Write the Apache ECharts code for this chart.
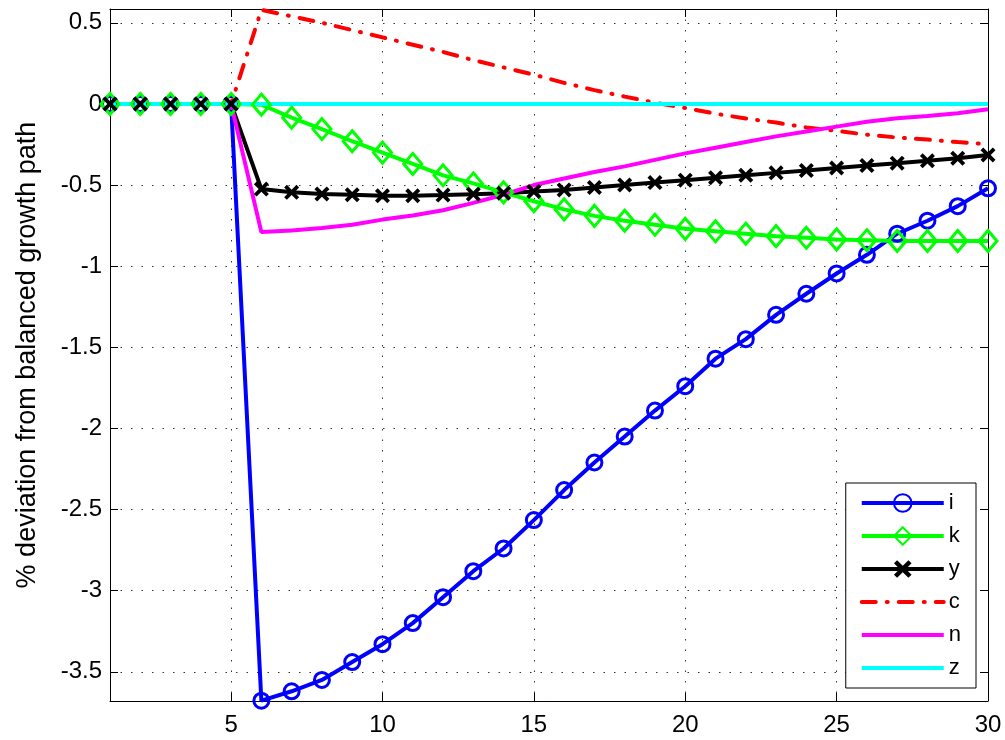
<!DOCTYPE html>
<html>
<head>
<meta charset="utf-8">
<script src="https://cdn.jsdelivr.net/npm/echarts@6/dist/echarts.min.js"></script>
<style>
  html, body { margin: 0; padding: 0; background: #fff; }
  #chart { width: 1005px; height: 740px; }
</style>
</head>
<body>
<div id="chart"></div>
<script>
// periods on the x axis
const periods = [1, 2, 3, 4, 5, 6, 7, 8, 9, 10, 11, 12, 13, 14, 15, 16, 17, 18, 19, 20, 21, 22, 23, 24, 25, 26, 27, 28, 29, 30];

// % deviation from balanced growth path
const iVals = [0, 0, 0, 0, 0, -3.678, -3.62, -3.55, -3.44, -3.33, -3.20, -3.04, -2.88, -2.74, -2.565, -2.38, -2.21, -2.05, -1.89, -1.74, -1.57, -1.45, -1.30, -1.17, -1.045, -0.93, -0.80, -0.72, -0.63, -0.52];
const kVals = [0, 0, 0, 0, 0, -0.005, -0.085, -0.155, -0.23, -0.30, -0.37, -0.44, -0.49, -0.545, -0.60, -0.65, -0.69, -0.72, -0.745, -0.77, -0.785, -0.80, -0.815, -0.825, -0.835, -0.84, -0.845, -0.845, -0.845, -0.845];
const yVals = [0, 0, 0, 0, 0, -0.525, -0.545, -0.555, -0.56, -0.566, -0.566, -0.562, -0.556, -0.55, -0.54, -0.53, -0.515, -0.50, -0.485, -0.47, -0.455, -0.44, -0.425, -0.41, -0.395, -0.38, -0.365, -0.35, -0.335, -0.315];
const cVals = [0, 0, 0, 0, 0, 0.58, 0.54, 0.50, 0.455, 0.41, 0.365, 0.32, 0.27, 0.225, 0.18, 0.13, 0.085, 0.045, 0.008, -0.025, -0.06, -0.09, -0.115, -0.145, -0.166, -0.19, -0.207, -0.22, -0.235, -0.248];
const nVals = [0, 0, 0, 0, 0, -0.79, -0.78, -0.765, -0.745, -0.713, -0.688, -0.655, -0.61, -0.56, -0.50, -0.46, -0.42, -0.385, -0.345, -0.305, -0.27, -0.235, -0.2, -0.17, -0.14, -0.11, -0.088, -0.074, -0.057, -0.033];
const zVals = [0, 0, 0, 0, 0, 0, 0, 0, 0, 0, 0, 0, 0, 0, 0, 0, 0, 0, 0, 0, 0, 0, 0, 0, 0, 0, 0, 0, 0, 0];

const seriesNames = ['i', 'k', 'y', 'c', 'n', 'z'];

const chart = echarts.init(document.getElementById('chart'));
const FONT = '"Liberation Sans", Arial, Helvetica, sans-serif';

const pairs = vals => periods.map((p, idx) => [p, vals[idx]]);

// x-shaped marker like matlab's 'x'
const crossPath = 'path://M0,1.8L1.8,0L5,3.2L8.2,0L10,1.8L6.8,5L10,8.2L8.2,10L5,6.8L1.8,10L0,8.2L3.2,5Z';
const clear = 'rgba(0,0,0,0)';

const gridLine = { show: true, lineStyle: { color: '#333', width: 1, type: [1.5, 9] } };
const tickIn = { show: true, inside: true, length: 8, lineStyle: { color: '#000', width: 1 } };
const LW = 4;

const option = {
    animation: false,
    backgroundColor: '#fff',
    grid: { left: 110, right: 17, top: 9, bottom: 39 },
    legend: {
        orient: 'vertical',
        right: 29,
        bottom: 52,
        padding: [9, 15, 9, 14],
        itemWidth: 82,
        itemHeight: 22,
        itemGap: 11,
        backgroundColor: '#fff',
        borderColor: '#000',
        borderWidth: 1,
        borderRadius: 0,
        lineStyle: { width: LW },
        textStyle: { fontFamily: FONT, fontSize: 22, color: '#000' },
        data: seriesNames
    },
    xAxis: [
        {
            type: 'value',
            min: 1,
            max: 30,
            minInterval: 5,
            maxInterval: 5,
            axisLine: { show: true, onZero: false, lineStyle: { color: '#000', width: 1 } },
            axisTick: tickIn,
            axisLabel: { fontFamily: FONT, fontSize: 24, color: '#000', margin: 12, showMinLabel: false, showMaxLabel: true },
            splitLine: gridLine
        },
        {
            type: 'value',
            position: 'top',
            min: 1,
            max: 30,
            minInterval: 5,
            maxInterval: 5,
            axisLine: { show: true, onZero: false, lineStyle: { color: '#000', width: 1 } },
            axisTick: tickIn,
            axisLabel: { show: false },
            splitLine: { show: false }
        }
    ],
    yAxis: [
        {
            type: 'value',
            min: -3.68,
            max: 0.585,
            minInterval: 0.5,
            maxInterval: 0.5,
            name: '% deviation from balanced growth path',
            nameLocation: 'middle',
            nameGap: 69,
            nameTextStyle: { fontFamily: FONT, fontSize: 27, color: '#000' },
            axisLine: { show: true, onZero: false, lineStyle: { color: '#000', width: 1 } },
            axisTick: tickIn,
            axisLabel: { fontFamily: FONT, fontSize: 24, color: '#000', margin: 8, showMinLabel: false, showMaxLabel: false },
            splitLine: gridLine
        },
        {
            type: 'value',
            position: 'right',
            min: -3.68,
            max: 0.585,
            minInterval: 0.5,
            maxInterval: 0.5,
            axisLine: { show: true, onZero: false, lineStyle: { color: '#000', width: 1 } },
            axisTick: tickIn,
            axisLabel: { show: false },
            splitLine: { show: false }
        }
    ],
    series: [
        {
            name: 'i', type: 'line', data: pairs(iVals),
            symbol: 'circle', symbolSize: 15,
            lineStyle: { color: '#0000ff', width: LW },
            itemStyle: { color: clear, borderColor: '#0000ff', borderWidth: 3 }
        },
        {
            name: 'k', type: 'line', data: pairs(kVals),
            symbol: 'diamond', symbolSize: [18, 21],
            lineStyle: { color: '#00ff00', width: LW },
            itemStyle: { color: clear, borderColor: '#00ff00', borderWidth: 3 }
        },
        {
            name: 'y', type: 'line', data: pairs(yVals),
            symbol: crossPath, symbolSize: 15,
            lineStyle: { color: '#000000', width: LW },
            itemStyle: { color: '#000000' }
        },
        {
            // plain lines: the marker is kept hidden and see-through so the legend shows the line only
            name: 'c', type: 'line', data: pairs(cVals),
            symbol: 'circle', showSymbol: false,
            lineStyle: { color: '#ff0000', width: LW, type: [14, 11, 1, 11], cap: 'round' },
            itemStyle: { color: clear, borderWidth: 0 }
        },
        {
            name: 'n', type: 'line', data: pairs(nVals),
            symbol: 'circle', showSymbol: false,
            lineStyle: { color: '#ff00ff', width: LW },
            itemStyle: { color: clear, borderWidth: 0 }
        },
        {
            name: 'z', type: 'line', data: pairs(zVals),
            symbol: 'circle', showSymbol: false,
            lineStyle: { color: '#00ffff', width: LW },
            itemStyle: { color: clear, borderWidth: 0 }
        }
    ]
};

chart.setOption(option);
</script>
</body>
</html>
